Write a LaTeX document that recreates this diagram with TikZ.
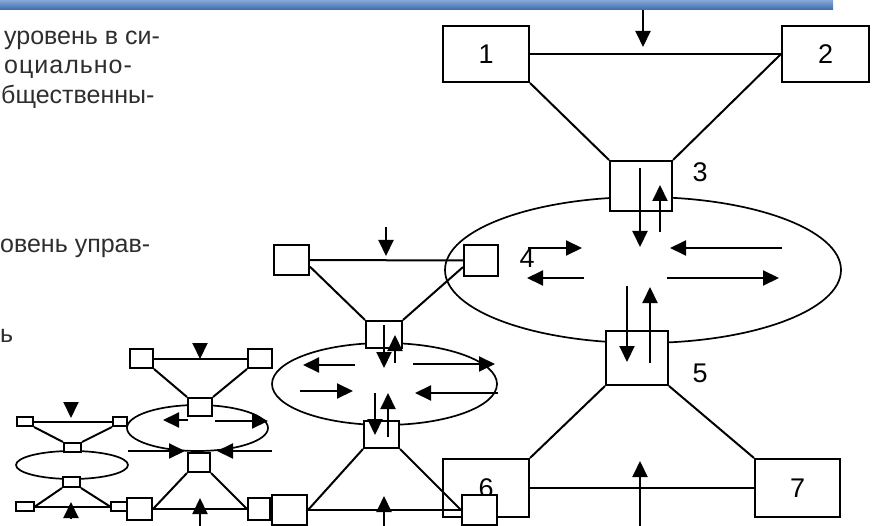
\documentclass[tikz,border=0pt]{standalone}
\usepackage{fontspec}
\setmainfont{Liberation Sans}
\usetikzlibrary{arrows.meta, positioning, calc, shapes.geometric}
\definecolor{banner_light}{HTML}{86A8D8}
\definecolor{banner_dark}{HTML}{3D69AA}
\definecolor{print_gray}{HTML}{2E2E2E}
\tikzset{
  cell/.style 2 args={rectangle,draw=black,line width=2pt,fill=white,inner sep=0pt,
    minimum width=#1pt,minimum height=#2pt,font=\fontsize{27}{30}\selectfont},
  field/.style={ellipse,draw=black,line width=1.7pt,inner sep=0pt},
  link/.style={draw=black,line width=2pt},
  flow/.style={draw=black,line width=2pt,-{Triangle[length=16pt,width=15pt]}},
  tag/.style={inner sep=0pt,font=\fontsize{27}{30}\selectfont},
  txt/.style={inner sep=0pt,text=print_gray,font=\fontsize{25}{29}\selectfont},
}

\begin{document}
\begin{tikzpicture}[x=1pt,y=-1pt]
  \useasboundingbox (0,0) rectangle (874,526);
  \clip (0,0) rectangle (874,526);
  \shade[top color=banner_light,bottom color=banner_dark] (0,0) rectangle (833,10);

  % text of the page
  \node[txt,anchor=base west] (t1) at (4,45) {уровень в си-};
  \node[txt,anchor=base west] (t2) at (4,74) {\addfontfeature{LetterSpace=4}оциально-};
  \node[txt,anchor=base west] (t3) at (1,104) {бщественны-};
  \node[txt,anchor=base west] (t4) at (0,253) {овень управ-};
  \node[txt,anchor=base west] (t5) at (0,342) {ь};

  % outer level
  \node[field,minimum width=396pt,minimum height=146pt] (e4) at (643,270) {};
  \node[cell={86}{56}] (b1) at (486,54) {1};
  \node[cell={87}{56}] (b2) at (825.5,54) {2};
  \node[cell={62}{50}] (b3) at (641,186) {};
  \node[cell={62}{54}] (b5) at (637,358) {};
  \node[cell={86}{58}] (b6) at (486,488) {6};
  \node[cell={85}{58}] (b7) at (797.5,488) {7};
  \node[tag] (n3) at (700,172) {3};
  \node[tag] (n4) at (527,258) {4};
  \node[tag] (n5) at (700,373) {5};
  \draw[link] (b1) -- (b2);
  \draw[link] (b1.south east) -- (b3.north west);
  \draw[link] (b2.west) -- (b3.north east);
  \draw[link] (b5.south west) -- (b6.north east);
  \draw[link] (b5.south east) -- (b7.north west);
  \draw[link] (b6) -- (b7);
  \draw[flow] (643,10) -- (643,47);
  \draw[flow] (640,168) -- (640,247);
  \draw[flow] (660,232) -- (660,185);
  \draw[flow] (528,248) -- (582,248);
  \draw[flow] (584,278) -- (527,278);
  \draw[flow] (782,248) -- (670,248);
  \draw[flow] (667,278) -- (779,278);
  \draw[flow] (627,286) -- (627,362);
  \draw[flow] (650,363) -- (650,287);
  \draw[flow] (640,526) -- (640,461);

  % middle level
  \node[field,minimum width=225pt,minimum height=82pt] (eM) at (384.5,384) {};
  \node[cell={35}{30}] (mA) at (291.5,260) {};
  \node[cell={34}{31}] (mB) at (481,260.5) {};
  \node[cell={36}{27}] (mC) at (384,334.5) {};
  \node[cell={35}{27}] (mD) at (381.5,434.5) {};
  \node[cell={35}{30}] (mE) at (289.5,510) {};
  \node[cell={35}{30}] (mF) at (479.5,510) {};
  \draw[link] (mA) -- (mB);
  \draw[link] (mA.-20) -- (mC.north west);
  \draw[link] (mB.200) -- (mC.north east);
  \draw[link] (mD.south west) -- (mE.east);
  \draw[link] (mD.south east) -- (mF.west);
  \draw[link] (mE) -- (mF);
  \draw[flow] (386,227) -- (386,256);
  \draw[flow] (384,325) -- (384,368);
  \draw[flow] (395,363) -- (395,335);
  \draw[flow] (355,365) -- (303,365);
  \draw[flow] (413,364) -- (495,364);
  \draw[flow] (300,391) -- (353,391);
  \draw[flow] (498,393) -- (415,393);
  \draw[flow] (375,393) -- (375,435);
  \draw[flow] (388,437) -- (388,393);
  \draw[flow] (384,526) -- (384,496);

  % small level
  \node[field,minimum width=141pt,minimum height=46pt] (eS) at (197.5,428) {};
  \node[cell={23}{19}] (sA) at (141.5,358.5) {};
  \node[cell={24}{19}] (sB) at (260,358.5) {};
  \node[cell={24}{18}] (sC) at (200,407) {};
  \node[cell={22}{19}] (sD) at (199,462.5) {};
  \node[cell={25}{22}] (sE) at (139.5,509) {};
  \node[cell={22}{22}] (sF) at (259,509) {};
  \draw[link] (sA) -- (sB);
  \draw[link] (sA.south east) -- (sC.north west);
  \draw[link] (sB.south west) -- (sC.north east);
  \draw[link] (sD.south west) -- (sE.east);
  \draw[link] (sD.south east) -- (sF.west);
  \draw[link] (sE) -- (sF);
  \draw[flow] (200,343) -- (200,359);
  \draw[flow] (188,420) -- (163,420);
  \draw[flow] (215,421) -- (268,421);
  \draw[flow] (128,451) -- (185,451);
  \draw[flow] (272,451) -- (217,451);
  \draw[flow] (200,526) -- (200,498);

  % smallest level
  \node[field,minimum width=112pt,minimum height=28pt] (eT) at (72,465) {};
  \node[cell={16}{9}] (tA) at (25,421.5) {};
  \node[cell={14}{9}] (tB) at (120,421.5) {};
  \node[cell={17}{9}] (tC) at (72.5,447.5) {};
  \node[cell={17}{10}] (tD) at (71.5,482) {};
  \node[cell={18}{9}] (tE) at (25,506.5) {};
  \node[cell={16}{9}] (tF) at (119,506.5) {};
  \draw[link] (tA) -- (tB);
  \draw[link] (tA.south east) -- (tC.north west);
  \draw[link] (tB.south west) -- (tC.north east);
  \draw[link] (tD.south west) -- (tE.east);
  \draw[link] (tD.south east) -- (tF.west);
  \draw[link] (tE) -- (tF);
  \draw[flow] (71,402) -- (71,418);
  \draw[flow] (71,519) -- (71,502);
\end{tikzpicture}
\end{document}
